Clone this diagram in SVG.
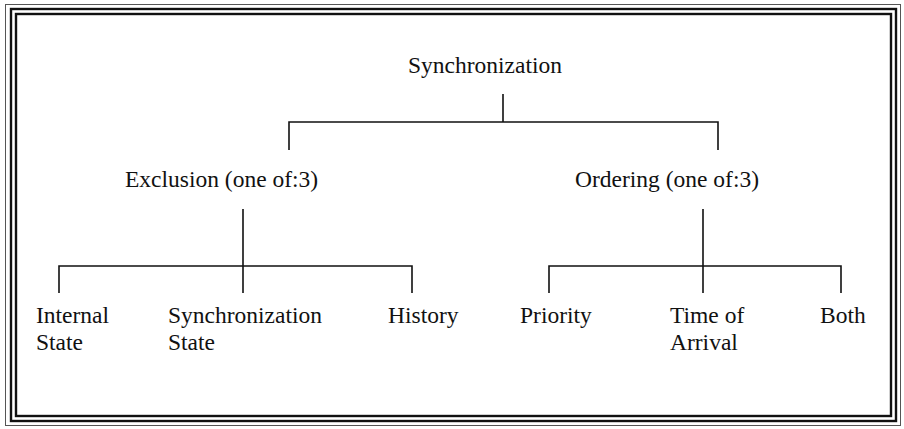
<svg xmlns="http://www.w3.org/2000/svg" width="904" height="429" viewBox="0 0 904 429">
  <style>
    .lbl { font-family: "Liberation Serif", "Times New Roman", serif; font-size: 23.5px; fill: #111; }
    .edge { stroke: #111; stroke-width: 1.6; fill: none; }
    .frame-thin { stroke: #555; stroke-width: 1; fill: none; }
    .frame-thick { stroke: #111; stroke-width: 2.4; fill: none; }
  </style>
  <rect x="0" y="0" width="904" height="429" fill="#fff"/>

  <!-- triple-line page frame -->
  <g id="frame">
    <rect class="frame-thin" x="5.5" y="4.5" width="895" height="421"/>
    <rect class="frame-thick" x="11" y="9" width="885" height="412"/>
    <rect class="frame-thick" x="16" y="14" width="875" height="402"/>
  </g>

  <!-- tree connectors -->
  <g id="connectors">
    <path class="edge" d="M503 94 V122 M289 150 V122 H718 V150"/>
    <path class="edge" d="M243 209 V293 M59 293 V266 H412 V293"/>
    <path class="edge" d="M703 209 V293 M549 293 V266 H841 V293"/>
  </g>

  <g id="synchronization"><text class="lbl" x="408" y="73">Synchronization</text></g>
  <g id="exclusion"><text class="lbl" x="125" y="187">Exclusion (one of:3)</text></g>
  <g id="ordering"><text class="lbl" x="575" y="187">Ordering (one of:3)</text></g>

  <g id="internal-state">
    <text class="lbl" x="36" y="323">Internal</text>
    <text class="lbl" x="36" y="350">State</text>
  </g>
  <g id="synchronization-state">
    <text class="lbl" x="168" y="323">Synchronization</text>
    <text class="lbl" x="168" y="350">State</text>
  </g>
  <g id="history"><text class="lbl" x="388" y="323">History</text></g>
  <g id="priority"><text class="lbl" x="520" y="323">Priority</text></g>
  <g id="time-of-arrival">
    <text class="lbl" x="670" y="323">Time of</text>
    <text class="lbl" x="670" y="350">Arrival</text>
  </g>
  <g id="both"><text class="lbl" x="820" y="323">Both</text></g>
</svg>
